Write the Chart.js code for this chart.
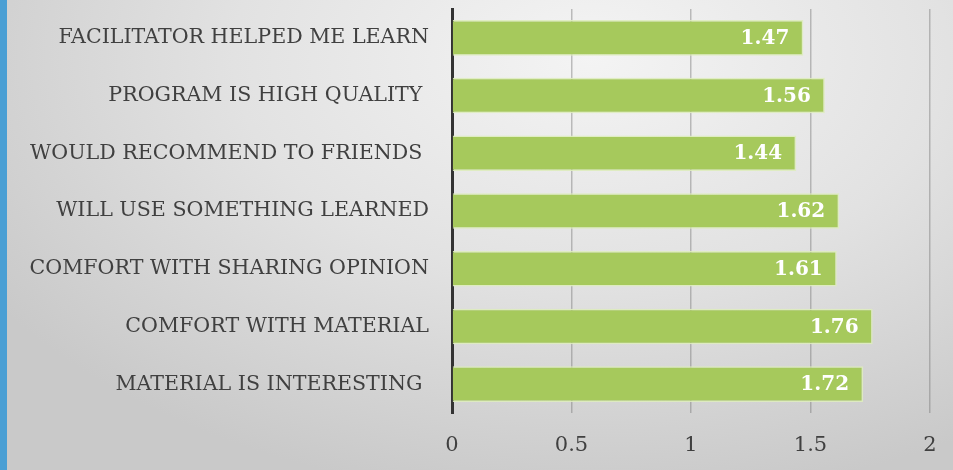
<!DOCTYPE html>
<html>
<head>
<meta charset="utf-8">
<script src="https://cdn.jsdelivr.net/npm/chart.js@4"></script>
<style>
  html, body { margin: 0; padding: 0; }
  body {
    width: 953px; height: 470px; overflow: hidden; position: relative;
    background: radial-gradient(ellipse 75% 95% at 62% 12%, #f4f4f4 0%, #e2e2e2 50%, #c9c9c9 100%);
  }
  #stripe { position: absolute; left: 0; top: 0; width: 7px; height: 470px; background: #4a9fd4; }
  #wrap { position: absolute; left: 0; top: 0; width: 953px; height: 470px; }
</style>
</head>
<body>
<div id="stripe"></div>
<div id="wrap"><canvas id="myChart" width="953" height="470"></canvas></div>
<script>
var categories = [
  'FACILITATOR HELPED ME LEARN',
  'PROGRAM IS HIGH QUALITY ',
  'WOULD RECOMMEND TO FRIENDS ',
  'WILL USE SOMETHING LEARNED',
  'COMFORT WITH SHARING OPINION',
  'COMFORT WITH MATERIAL',
  'MATERIAL IS INTERESTING '
];
var scores = [1.47, 1.56, 1.44, 1.62, 1.61, 1.76, 1.72];
var xTicks = [0, 0.5, 1, 1.5, 2];

var fontFamily = '"DejaVu Serif", serif';

// white value labels near the end of each bar
var valueLabels = {
  id: 'valueLabels',
  afterDatasetsDraw: function(chart){
    var ctx = chart.ctx;
    var meta = chart.getDatasetMeta(0);
    ctx.save();
    ctx.font = 'bold 20px ' + fontFamily;
    ctx.fillStyle = '#ffffff';
    ctx.textAlign = 'right';
    ctx.textBaseline = 'middle';
    meta.data.forEach(function(bar, i){
      ctx.fillText(scores[i].toFixed(2), bar.x - 14, bar.y + 1);
    });
    ctx.restore();
  }
};

var chartdata = {
  labels: categories,
  datasets: [{
    data: scores,
    backgroundColor: '#a6c95c',
    borderColor: 'rgba(222,236,190,0.9)',
    borderWidth: 1.5,
    borderSkipped: 'start',
    barPercentage: 0.77,
    categoryPercentage: 0.8
  }]
};

var ctx = document.getElementById('myChart');
var barGraph = new Chart(ctx, {
  type: 'bar',
  data: chartdata,
  options: {
    indexAxis: 'y',
    responsive: false,
    animation: false,
    layout: { padding: { top: 9, right: 23, bottom: 0, left: 0 } },
    plugins: { legend: { display: false }, tooltip: { enabled: false } },
    scales: {
      x: {
        min: 0, max: 2,
        z: 1,
        afterBuildTicks: function(scale){
          scale.ticks = xTicks.map(function(v){ return { value: v }; });
        },
        afterFit: function(scale){
          scale.height = 57;
          scale.paddingLeft = 0;
          scale.paddingRight = 0;
        },
        grid: { color: 'rgba(120,120,120,0.45)', lineWidth: 1.5, drawTicks: false },
        border: { display: false },
        ticks: {
          color: '#404040',
          padding: 20,
          font: { family: fontFamily, size: 21 },
          callback: function(v){ return String(v); }
        }
      },
      y: {
        afterFit: function(scale){
          scale.width = 452;
          scale.paddingTop = 0;
          scale.paddingBottom = 0;
        },
        grid: { display: false },
        border: { display: true, color: '#333333', width: 3 },
        ticks: {
          color: '#404040',
          padding: 15,
          font: { family: fontFamily, size: 20.6 }
        }
      }
    }
  },
  plugins: [valueLabels]
});
</script>
</body>
</html>
